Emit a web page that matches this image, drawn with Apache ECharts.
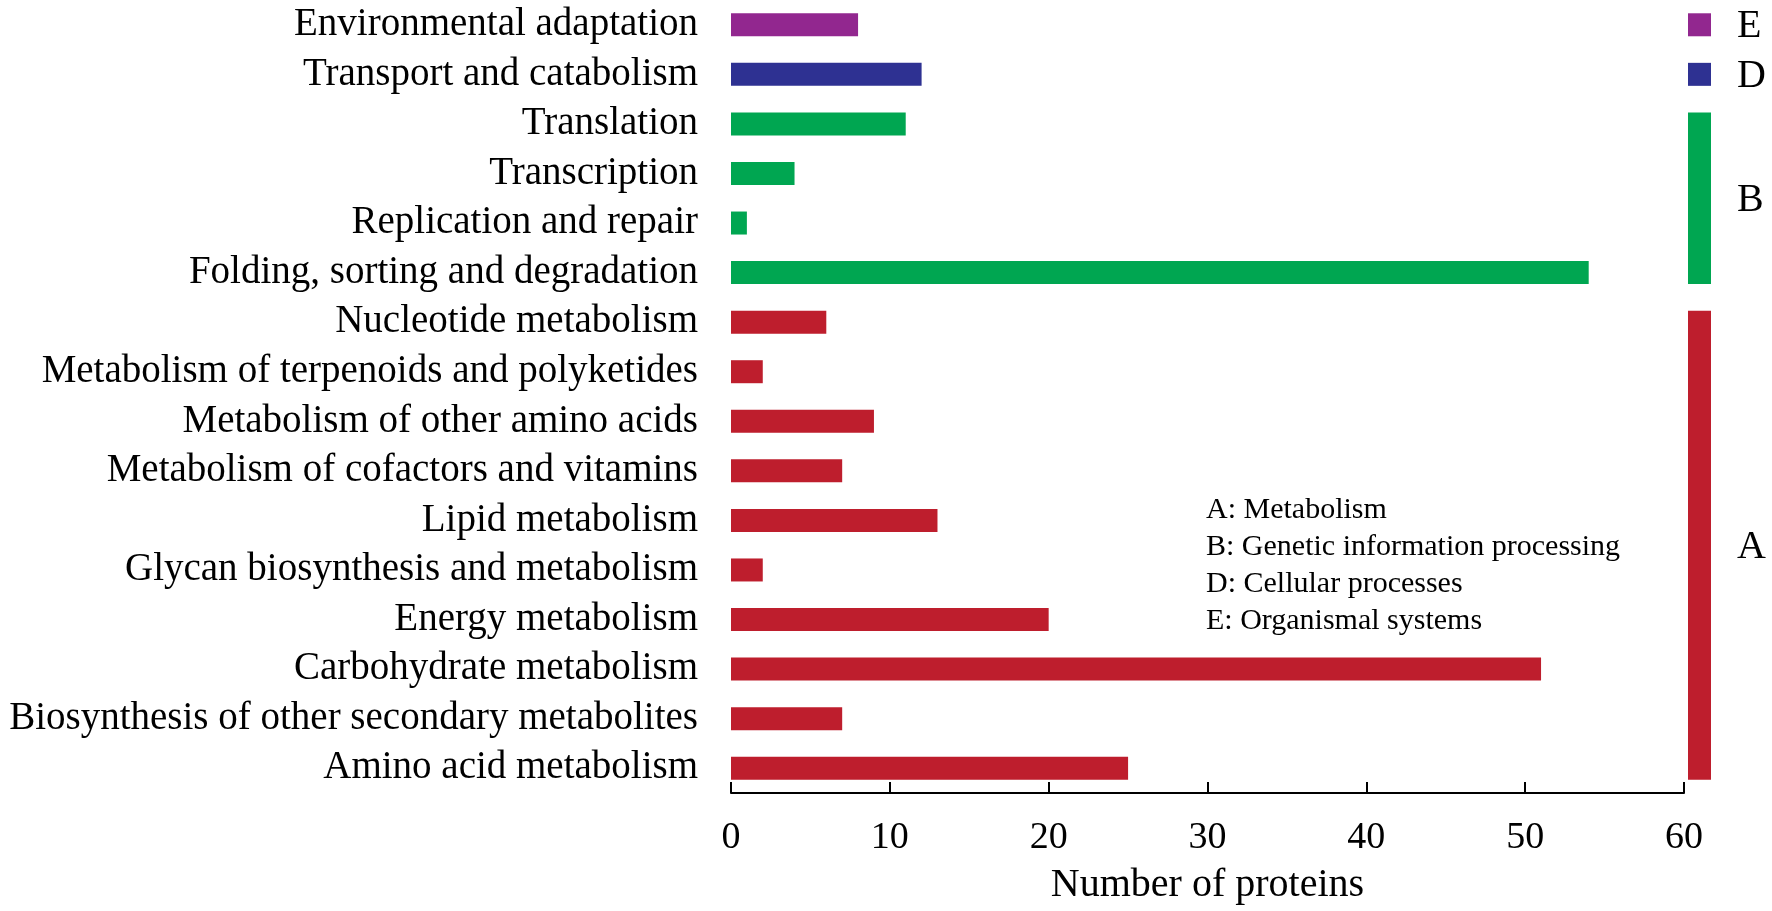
<!DOCTYPE html>
<html>
<head>
<meta charset="utf-8">
<script src="https://cdn.jsdelivr.net/npm/echarts@6/dist/echarts.min.js"></script>
<style>
  html, body { margin: 0; padding: 0; background: #fff; }
  #main { width: 1772px; height: 911px; }
</style>
</head>
<body>
<div id="main"></div>
<script>
// categories, bottom to top
var categories = [
  'Amino acid metabolism',
  'Biosynthesis of other secondary metabolites',
  'Carbohydrate metabolism',
  'Energy metabolism',
  'Glycan biosynthesis and metabolism',
  'Lipid metabolism',
  'Metabolism of cofactors and vitamins',
  'Metabolism of other amino acids',
  'Metabolism of terpenoids and polyketides',
  'Nucleotide metabolism',
  'Folding, sorting and degradation',
  'Replication and repair',
  'Transcription',
  'Translation',
  'Transport and catabolism',
  'Environmental adaptation'
];
var proteinCounts = [25, 7, 51, 20, 2, 13, 7, 9, 2, 6, 54, 1, 4, 11, 12, 8];
var categoryGroup = ['A', 'A', 'A', 'A', 'A', 'A', 'A', 'A', 'A', 'A', 'B', 'B', 'B', 'B', 'D', 'E'];

// side group bars: first and last category index of each group
var groupNames = ['A', 'B', 'D', 'E'];
var groupStart = [0, 10, 14, 15];
var groupEnd = [9, 13, 14, 15];

var groupLegend = [
  'A: Metabolism',
  'B: Genetic information processing',
  'D: Cellular processes',
  'E: Organismal systems'
];

var xTicks = [0, 10, 20, 30, 40, 50, 60];

var groupColors = { A: '#BE1E2D', B: '#00A651', D: '#2E3192', E: '#92278F' };
var FONT = "'Liberation Serif', 'Times New Roman', serif";
var BAR_H = 23;

var chart = echarts.init(document.getElementById('main'));

var barData = proteinCounts.map(function (v, i) {
  return { value: v, itemStyle: { color: groupColors[categoryGroup[i]] } };
});

var groupData = groupNames.map(function (g, i) {
  return [xTicks[xTicks.length - 1], groupStart[i], groupEnd[i], g];
});

chart.setOption({
  backgroundColor: '#fff',
  animation: false,
  grid: { left: 731, right: 88, top: 0, bottom: 118, containLabel: false },
  xAxis: {
    type: 'value',
    min: xTicks[0],
    max: xTicks[xTicks.length - 1],
    interval: 10,
    name: 'Number of proteins',
    nameLocation: 'middle',
    nameGap: 72,
    nameTextStyle: { fontFamily: FONT, fontSize: 40, color: '#000' },
    axisLine: { show: true, lineStyle: { color: '#000', width: 2 } },
    axisTick: { show: true, inside: true, length: 11, lineStyle: { color: '#000', width: 2 } },
    axisLabel: { fontFamily: FONT, fontSize: 38, color: '#000', margin: 26 },
    splitLine: { show: false }
  },
  yAxis: {
    type: 'category',
    data: categories,
    axisLine: { show: false },
    axisTick: { show: false },
    axisLabel: {
      interval: 0, fontFamily: FONT, fontSize: 39, color: '#000',
      margin: 33, padding: [6, 0, 0, 0]
    }
  },
  series: [
    {
      type: 'bar',
      data: barData,
      barWidth: BAR_H
    },
    {
      type: 'custom',
      clip: false,
      encode: { x: 0, y: [1, 2] },
      data: groupData,
      renderItem: function (params, api) {
        var top = api.coord([api.value(0), api.value(2)]);
        var bottom = api.coord([api.value(0), api.value(1)]);
        var g = groupNames[params.dataIndex];
        var x = top[0] + 4;
        var y0 = top[1] - BAR_H / 2;
        var h = bottom[1] - top[1] + BAR_H;
        return {
          type: 'group',
          children: [
            {
              type: 'rect',
              shape: { x: x, y: y0, width: BAR_H, height: h },
              style: { fill: groupColors[g] }
            },
            {
              type: 'text',
              style: {
                x: x + BAR_H + 26,
                y: y0 + h / 2 + 2,
                text: g,
                fill: '#000',
                font: '40px ' + FONT,
                textAlign: 'left',
                textVerticalAlign: 'middle'
              }
            }
          ]
        };
      }
    }
  ],
  graphic: [
    {
      type: 'text',
      left: 1206,
      top: 492,
      style: {
        text: groupLegend.join('\n'),
        fill: '#000',
        font: '30px ' + FONT,
        lineHeight: 37
      }
    }
  ]
});
</script>
</body>
</html>
